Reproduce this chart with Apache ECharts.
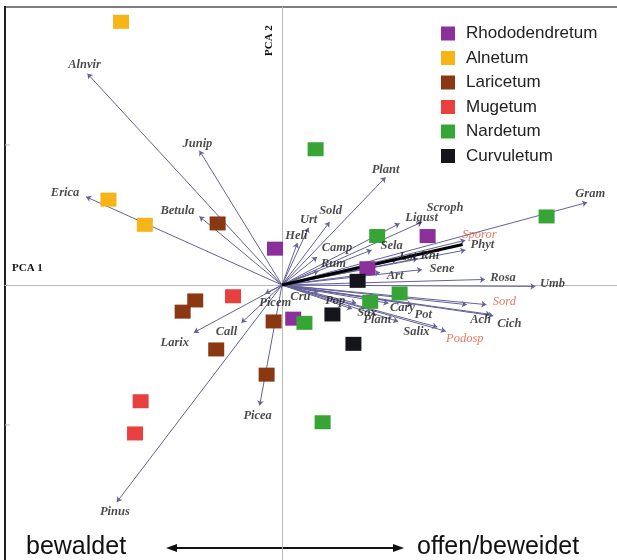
<!DOCTYPE html>
<html>
<head>
<meta charset="utf-8">
<title>PCA</title>
<script src="https://cdn.jsdelivr.net/npm/echarts@6/dist/echarts.min.js"></script>
<style>
  html, body { margin: 0; padding: 0; background: #fff; }
</style>
</head>
<body>
<div id="box" style="width: 617px;height: 560px;"></div>
<script>
// Aufnahmen (Scores) je Vegetationstyp: [PCA1, PCA2]
var groupNames = ['Rhododendretum', 'Alnetum', 'Laricetum', 'Mugetum', 'Nardetum', 'Curvuletum']
var groupColors = ['#8b2f9a', '#f7b416', '#8a3812', '#e8403f', '#37a535', '#15151c']
var rhodo = [[-0.05, 0.26], [1.04, 0.35], [0.61, 0.12], [0.08, -0.24]]
var alnet = [[-1.15, 1.88], [-1.24, 0.61], [-0.98, 0.43]]
var laric = [[-0.46, 0.44], [-0.62, -0.11], [-0.71, -0.19], [-0.06, -0.26], [-0.47, -0.46], [-0.11, -0.64]]
var muget = [[-0.35, -0.08], [-1.01, -0.83], [-1.05, -1.06]]
var nardet = [[0.24, 0.97], [1.89, 0.49], [0.68, 0.35], [0.84, -0.06], [0.63, -0.12], [0.16, -0.27], [0.29, -0.98]]
var curvul = [[0.54, 0.03], [0.36, -0.21], [0.51, -0.42]]
var groups = [rhodo, alnet, laric, muget, nardet, curvul]

// Arten (Loadings): Name, PCA1, PCA2
var species = ['Alnvir', 'Junip', 'Erica', 'Betula', 'Larix', 'Call', 'Pinus', 'Picea', 'Picem', 'Cru',
  'Pop', 'Sax', 'Cary', 'Pot', 'Plant', 'Salix', 'Podosp', 'Ach', 'Cich', 'Sord', '',
  'Rosa', 'Umb', 'Phyt', 'Sporor', 'Gram', 'Sene', 'Art', 'Lot', 'Rhi', 'Sela', 'Camp', 'Rum',
  'Ligust', 'Scroph', 'Plant', 'Sold', 'Urt', 'Heli']
var loadX = [-1.39, -0.59, -1.40, -0.59, -0.63, -0.29, -1.18, -0.16, -0.12, 0.26,
  0.53, 0.50, 0.76, 0.93, 0.83, 1.11, 1.17, 1.49, 1.51, 1.46, 1.32,
  1.45, 1.81, 1.31, 1.31, 2.18, 1.00, 0.70, 0.82, 0.97, 0.64, 0.25, 0.26,
  0.84, 1.00, 0.74, 0.34, 0.19, 0.11]
var loadY = [1.51, 0.96, 0.63, 0.49, -0.34, -0.27, -1.55, -0.86, -0.06, -0.05,
  -0.13, -0.17, -0.13, -0.14, -0.26, -0.30, -0.33, -0.21, -0.22, -0.14, -0.14,
  0.04, -0.01, 0.25, 0.32, 0.59, 0.11, 0.09, 0.18, 0.19, 0.25, 0.20, 0.10,
  0.44, 0.45, 0.77, 0.45, 0.41, 0.30]
var redSpecies = ['Sporor', 'Sord', 'Podosp']
// Zusatzvektor (dicke Linie)
var extraVec = [1.29, 0.29]

// Beschriftungsversatz in Pixel (nur Layout)
var labelOffsets = [[-3, -9], [-2, -7], [-21, -4], [-22, -6], [-19, 10], [-15, 9], [-2, 10], [-2, 10], [10, 9], [-18, 5],
  [-21, -2], [15, 4], [14, 5], [11, 10], [-21, -2], [-21, 5], [19, 7], [-10, 5], [16, 8], [18, -3], [0, 0],
  [18, -2], [17, -3], [17, -5], [14, -6], [3, -9], [20, -1], [15, 3], [11, -3], [12, -3], [20, -4], [20, -9], [15, -7],
  [22, -6], [23, -14], [0, -7], [1, -11], [0, -8], [-1, -7]]

var mCharts = echarts.init(document.querySelector('#box'))

var arrowData = []
var labelData = []
var labelShift = []
for (var i = 0; i < species.length; i++) {
  arrowData.push({ coords: [[0, 0], [loadX[i], loadY[i]]] })
  if (species[i] === '') continue
  var isRed = redSpecies.indexOf(species[i]) >= 0
  labelShift.push(labelOffsets[i])
  labelData.push({
    value: [loadX[i], loadY[i]],
    name: species[i],
    label: {
      color: isRed ? '#e2573b' : '#1e1e1e',
      fontWeight: isRed ? 'normal' : 'bold'
    }
  })
}

var series = [
  {
    type: 'lines',
    coordinateSystem: 'cartesian2d',
    silent: true,
    z: 1,
    symbol: ['none', 'arrow'],
    symbolSize: [0, 5],
    lineStyle: { color: '#64629a', width: 1, opacity: 1 },
    data: arrowData
  },
  {
    type: 'lines',
    coordinateSystem: 'cartesian2d',
    silent: true,
    z: 2,
    lineStyle: { color: '#000', width: 3, opacity: 1 },
    data: [{ coords: [[0, 0], extraVec] }]
  }
]
for (var g = 0; g < groups.length; g++) {
  series.push({
    name: groupNames[g],
    type: 'scatter',
    symbol: 'rect',
    symbolSize: [16, 14],
    z: 3,
    itemStyle: { color: groupColors[g], opacity: 1 },
    data: groups[g]
  })
}
series.push({
  type: 'scatter',
  symbolSize: 1,
  z: 4,
  silent: true,
  itemStyle: { color: 'rgba(0,0,0,0)' },
  label: {
    show: true,
    position: 'inside',
    formatter: '{b}',
    fontFamily: 'Liberation Serif',
    fontStyle: 'italic',
    fontSize: 12.5
  },
  labelLayout: function (p) {
    var o = labelShift[p.dataIndex]
    return { dx: o[0], dy: o[1], hideOverlap: false }
  },
  data: labelData
})

var option = {
  animation: false,
  backgroundColor: '#fff',
  grid: {
    left: 5, top: 7, right: 0, bottom: 0,
    show: false
  },
  xAxis: {
    type: 'value',
    min: -1.979, max: 2.393,
    axisLine: { show: true, onZero: true, lineStyle: { color: '#b8b8b8', width: 1 } },
    axisTick: { show: false },
    axisLabel: { show: false },
    splitLine: { show: false }
  },
  yAxis: {
    type: 'value',
    min: -1.964, max: 1.986,
    axisLine: { show: true, onZero: true, lineStyle: { color: '#b8b8b8', width: 1 } },
    axisTick: { show: false },
    axisLabel: { show: false },
    splitLine: { show: false }
  },
  legend: {
    data: groupNames,
    orient: 'vertical',
    left: 436,
    top: 20,
    icon: 'rect',
    itemWidth: 14,
    itemHeight: 14,
    itemGap: 7.5,
    textStyle: { fontFamily: 'Liberation Sans', fontSize: 17, color: '#222', padding: [0, 0, 0, 6] }
  },
  graphic: [
    { type: 'line', shape: { x1: 5, y1: 7, x2: 617, y2: 7 }, style: { stroke: '#555', lineWidth: 1.5 } },
    { type: 'line', shape: { x1: 5, y1: 6, x2: 5, y2: 560 }, style: { stroke: '#222', lineWidth: 2 } },
    { type: 'line', shape: { x1: 5, y1: 145, x2: 10, y2: 145 }, style: { stroke: '#bbb', lineWidth: 1 } },
    { type: 'line', shape: { x1: 5, y1: 425, x2: 10, y2: 425 }, style: { stroke: '#bbb', lineWidth: 1 } },
    { type: 'text', left: 12, top: 263, style: { text: 'PCA 1', font: 'bold 11px "Liberation Serif"', fill: '#111' } },
    { type: 'text', x: 264, y: 56, rotation: Math.PI / 2, style: { text: 'PCA 2', font: 'bold 11px "Liberation Serif"', fill: '#111' } },
    { type: 'text', left: 26, top: 535, style: { text: 'bewaldet', font: '25px "Liberation Sans"', fill: '#111' } },
    { type: 'text', left: 417, top: 535, style: { text: 'offen/beweidet', font: '25px "Liberation Sans"', fill: '#111' } },
    { type: 'line', shape: { x1: 172, y1: 548, x2: 398, y2: 548 }, style: { stroke: '#111', lineWidth: 2 } },
    { type: 'polygon', shape: { points: [[166, 548], [177, 544], [177, 552]] }, style: { fill: '#111' } },
    { type: 'polygon', shape: { points: [[404, 548], [393, 544], [393, 552]] }, style: { fill: '#111' } }
  ],
  series: series
}
mCharts.setOption(option)
</script>
</body>
</html>
